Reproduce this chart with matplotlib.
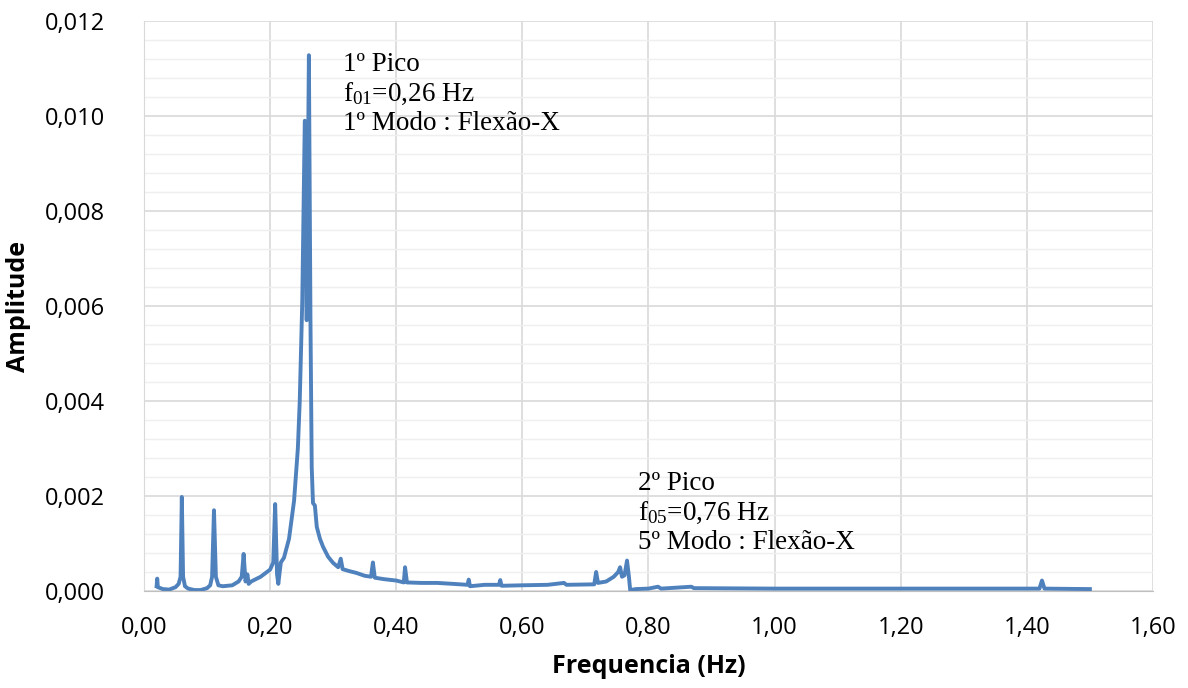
import numpy as np
import matplotlib
matplotlib.use("Agg")
import matplotlib.pyplot as plt
from matplotlib.ticker import MultipleLocator, FuncFormatter

# spectrum (Hz, amplitude)
freq = [0.020, 0.021, 0.022, 0.030, 0.040, 0.050, 0.055, 0.058, 0.060, 0.062,
        0.065, 0.070, 0.080, 0.090, 0.100, 0.105, 0.108, 0.111, 0.114, 0.118,
        0.125, 0.140, 0.150, 0.155, 0.158, 0.161, 0.164, 0.166, 0.170, 0.185,
        0.200, 0.205, 0.208, 0.211, 0.213, 0.217, 0.222, 0.230, 0.238, 0.244,
        0.247, 0.251, 0.255, 0.258, 0.2615, 0.264, 0.266, 0.268, 0.271, 0.274,
        0.279, 0.284, 0.292, 0.300, 0.308, 0.312, 0.315, 0.325, 0.337, 0.350,
        0.360, 0.363, 0.366, 0.380, 0.400, 0.412, 0.414, 0.417, 0.440, 0.465,
        0.490, 0.513, 0.515, 0.517, 0.540, 0.563, 0.565, 0.567, 0.600, 0.640,
        0.666, 0.670, 0.714, 0.717, 0.720, 0.733, 0.745, 0.752, 0.755, 0.758,
        0.762, 0.766, 0.769, 0.771, 0.780, 0.800, 0.815, 0.820, 0.868, 0.872,
        1.000, 1.200, 1.420, 1.424, 1.428, 1.500]
amp = [0.00010, 0.00026, 0.00008, 0.00004, 0.00003, 0.00008, 0.00015, 0.00030, 0.00198, 0.00030,
       0.00010, 0.00005, 0.00002, 0.00002, 0.00006, 0.00012, 0.00030, 0.00170, 0.00030, 0.00012,
       0.00010, 0.00012, 0.00020, 0.00030, 0.00078, 0.00020, 0.00035, 0.00015, 0.00020, 0.00030,
       0.00045, 0.00060, 0.00183, 0.00035, 0.00015, 0.00060, 0.00070, 0.00110, 0.00190, 0.00300,
       0.00400, 0.00610, 0.00990, 0.00570, 0.01128, 0.00570, 0.00260, 0.00185, 0.00180, 0.00135,
       0.00110, 0.00093, 0.00072, 0.00059, 0.00050, 0.00068, 0.00046, 0.00042, 0.00038, 0.00032,
       0.00030, 0.00060, 0.00028, 0.00025, 0.00022, 0.00018, 0.00050, 0.00018, 0.00017, 0.00017,
       0.00015, 0.00013, 0.00024, 0.00010, 0.00013, 0.00013, 0.00023, 0.00011, 0.00012, 0.00013,
       0.00017, 0.00013, 0.00014, 0.00040, 0.00017, 0.00020, 0.00030, 0.00040, 0.00050, 0.00030,
       0.00033, 0.00064, 0.00030, 0.00002, 0.00004, 0.00005, 0.00009, 0.00005, 0.00009, 0.00006,
       0.00005, 0.00005, 0.00005, 0.00022, 0.00005, 0.00004]

peak_labels = ["1º Pico\nf$_{01}$=0,26 Hz\n1º Modo : Flexão-X",
               "2º Pico\nf$_{05}$=0,76 Hz\n5º Modo : Flexão-X"]
peak_pos = [(0.316, 0.01135), (0.784, 0.00252)]

plt.rcParams['font.family'] = ['Open Sans', 'DejaVu Sans']
plt.rcParams['mathtext.fontset'] = 'custom'
plt.rcParams['mathtext.rm'] = 'Liberation Serif'
plt.rcParams['mathtext.it'] = 'Liberation Serif'

fig = plt.figure(figsize=(11.88, 6.88), dpi=100)
ax = fig.add_axes([0.1212, 0.141, 0.8493, 0.8285])

ax.plot(freq, amp, color='#4f81bd', lw=2.8, solid_joinstyle='round')

ax.set_xlim(0, 1.6)
ax.set_ylim(0, 0.012)
ax.xaxis.set_major_locator(MultipleLocator(0.2))
ax.yaxis.set_major_locator(MultipleLocator(0.002))
ax.yaxis.set_minor_locator(MultipleLocator(0.0004))
ax.xaxis.set_major_formatter(FuncFormatter(lambda v, p: f"{v:.2f}".replace('.', ',')))
ax.yaxis.set_major_formatter(FuncFormatter(lambda v, p: f"{v:.3f}".replace('.', ',')))

ax.grid(which='major', color='#d9d9d9', lw=1.2)
ax.grid(which='minor', axis='y', color='#efefef', lw=1.0)
ax.set_axisbelow(True)
for s in ['top', 'right']:
    ax.spines[s].set_visible(False)
ax.spines['left'].set_color('#d9d9d9')
ax.spines['bottom'].set_color('#bfbfbf')
ax.tick_params(which='both', length=0, labelsize=17, colors='#000000')
ax.tick_params(axis='x', pad=18)
ax.tick_params(axis='y', pad=28)

ax.set_xlabel('Frequencia (Hz)', fontsize=18, fontweight='bold', labelpad=10)
ax.set_ylabel('Amplitude', fontsize=18, fontweight='bold', labelpad=10)

for txt, (x, y) in zip(peak_labels, peak_pos):
    ax.text(x, y, txt, family='Liberation Serif', fontsize=19.5, va='top', ha='left',
            linespacing=1.2)

fig.savefig('out.png', dpi=100)
